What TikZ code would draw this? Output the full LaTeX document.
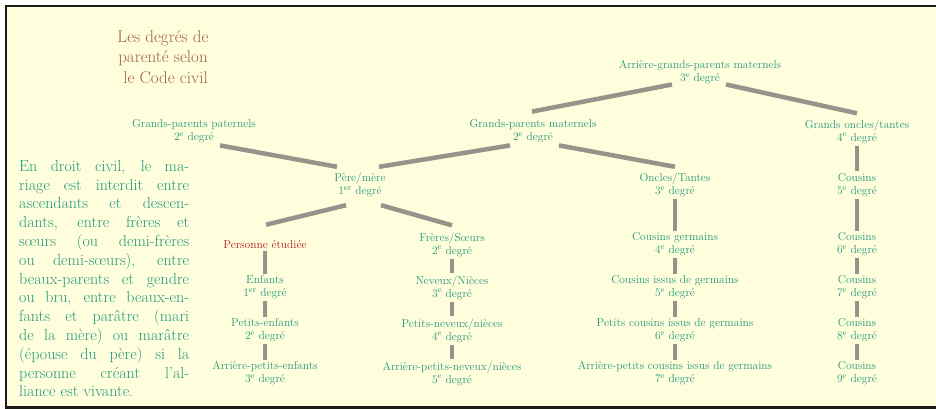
\documentclass[tikz,border=0pt]{standalone}
\usepackage{xcolor}
\usepackage{tikz}
\usetikzlibrary{calc}
\definecolor{tealx}{HTML}{23977F}
\definecolor{brownx}{HTML}{A0603C}
\definecolor{redx}{HTML}{B02020}
\definecolor{linkx}{HTML}{98938A}
\definecolor{creamx}{HTML}{FFFEDC}
\definecolor{framex}{HTML}{1C1A16}
\tikzset{
  pn/.style={align=center,text=tealx,font=\fontsize{11.5}{13}\selectfont,inner sep=2pt},
  pe/.style={pn,text=redx},
  ln/.style={draw=linkx,line width=4.5pt},
  tt/.style={align=center,text=brownx,font=\fontsize{17}{20.5}\selectfont},
  para/.style={anchor=north west,align=left,inner sep=0pt,text=tealx,font=\fontsize{16}{18.8}\selectfont}
}
\newcommand{\dg}[1]{#1\textsuperscript{e}~degré}
\newcommand{\lgn}[1]{\makebox[170pt][s]{#1}}

\begin{document}
\begin{tikzpicture}[x=1pt,y=-1pt]
\useasboundingbox (0,0) rectangle (936,409);
\fill[white] (0,0) rectangle (936,409);
\draw[framex,line width=2.5pt,fill=creamx] (6,6) rectangle (945,407.5);
% titre et texte
\node[tt] (titre) at (163,57) {Les degrés de\\parenté selon\\\ le Code civil};
\node[para] (texte) at (19,160) {\lgn{En droit civil, le ma-}\\
\lgn{riage est interdit entre}\\
\lgn{ascendants et descen-}\\
\lgn{dants, entre frères et}\\
\lgn{sœurs (ou demi-frères}\\
\lgn{ou demi-sœurs), entre}\\
\lgn{beaux-parents et gendre}\\
\lgn{ou bru, entre beaux-en-}\\
\lgn{fants et parâtre (mari}\\
\lgn{de la mère) ou marâtre}\\
\lgn{(épouse du père) si la}\\
\lgn{personne créant l'al-}\\
liance est vivante.};
% ascendants
\node[pn] (agpm) at (700,72.5) {Arrière-grands-parents maternels\\\dg{3}};
\node[pn] (gpp) at (194,131.5) {Grands-parents paternels\\\dg{2}};
\node[pn] (gpm) at (533,131.5) {Grands-parents maternels\\\dg{2}};
\node[pn] (got) at (857,131.5) {Grands oncles/tantes\\\dg{4}};
\node[pn] (pm) at (360,185) {Père/mère\\1\textsuperscript{er}~degré};
\node[pn] (ot) at (675,185) {Oncles/Tantes\\\dg{3}};
\node[pn] (cs5) at (857,185) {Cousins\\\dg{5}};
% colonnes
\node[pe] (pe) at (265,245) {Personne étudiée};
\node[pn] (enf) at (265,287.5) {Enfants\\1\textsuperscript{er}~degré};
\node[pn] (pte) at (265,330.5) {Petits-enfants\\\dg{2}};
\node[pn] (apte) at (265,373.5) {Arrière-petits-enfants\\\dg{3}};
\node[pn] (fs) at (452,244.5) {Frères/Sœurs\\\dg{2}};
\node[pn] (nn) at (452,287.5) {Neveux/Nièces\\\dg{3}};
\node[pn] (pnn) at (452,330.5) {Petits-neveux/nièces\\\dg{4}};
\node[pn] (apnn) at (452,373.5) {Arrière-petits-neveux/nièces\\\dg{5}};
\node[pn] (cg) at (675,244.5) {Cousins germains\\\dg{4}};
\node[pn] (cig) at (675,287.5) {Cousins issus de germains\\\dg{5}};
\node[pn] (pcig) at (675,330.5) {Petits cousins issus de germains\\\dg{6}};
\node[pn] (apcig) at (675,373.5) {Arrière-petits cousins issus de germains\\\dg{7}};
\foreach \k/\yy in {6/244.5,7/287.5,8/330.5,9/373.5}{\node[pn] (cs\k) at (857,\yy) {Cousins\\\dg{\k}};}
% liens
\draw[ln] ($(agpm.south)+(-28,-2)$) -- ($(gpm.north)+(-1,-6)$);
\draw[ln] ($(agpm.south)+(26,-2)$) -- ($(got.north)+(0,-4)$);
\draw[ln] ($(gpp.south)+(26,0)$) -- ($(pm.north)+(-23,-4)$);
\draw[ln] ($(gpm.south)+(-23,0)$) -- ($(pm.north)+(19,-4)$);
\draw[ln] ($(gpm.south)+(26,0)$) -- ($(ot.north)+(0,-4)$);
\draw[ln] ($(pm.south)+(-14,6)$) -- ($(pe.north)+(1,-14)$);
\draw[ln] ($(pm.south)+(21,6)$) -- ($(fs.north)+(0,-5)$);
\foreach \a/\b in {got/cs5,cs5/cs6,cs6/cs7,cs7/cs8,cs8/cs9,ot/cg,cg/cig,cig/pcig,pcig/apcig,fs/nn,nn/pnn,pnn/apnn,pe/enf,enf/pte,pte/apte}
  \draw[ln] (\a) -- (\b);
\end{tikzpicture}
\end{document}
